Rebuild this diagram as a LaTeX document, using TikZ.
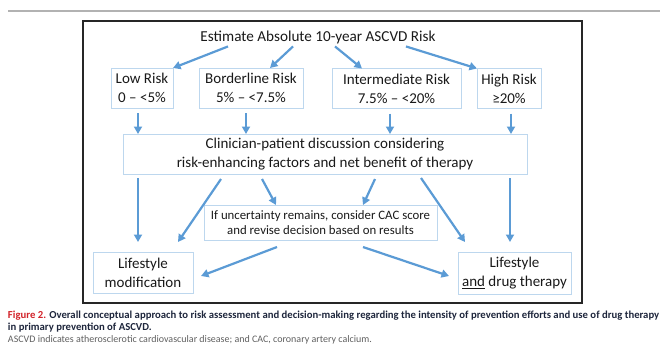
\documentclass[tikz,border=0pt]{standalone}
\usepackage{fontspec}
\setmainfont{Carlito}
\usetikzlibrary{arrows.meta}
\definecolor{arrowblue}{RGB}{91,155,213}
\definecolor{boxblue}{RGB}{189,215,238}
\definecolor{capred}{RGB}{210,35,42}
\definecolor{capnavy}{RGB}{30,38,60}
\definecolor{capgray}{RGB}{95,95,95}

\begin{document}
\begin{tikzpicture}[
        x=1pt, y=-1pt,
        every node/.style={inner sep=0pt, outer sep=0pt, text=black!90},
        riskbox/.style={draw=boxblue, line width=0.9pt, align=center,
                font=\fontsize{15}{19}\selectfont, minimum height=40pt},
        cacbox/.style={riskbox, font=\fontsize{12.8}{14.5}\selectfont, minimum height=35pt},
        link/.style={draw=arrowblue, line width=2.2pt, -{Triangle[length=7.5pt,width=8pt]}},
        caption/.style={anchor=base west, font=\fontsize{10.7}{12}\selectfont}
    ]

    \useasboundingbox (0,0) rectangle (668,357);
    \fill[black!30] (8,9.5) rectangle (660,11.5);
    \draw[black!85, line width=1.2pt] (83,21) rectangle (582,303);

    \node[anchor=base, font=\fontsize{15.2}{17}\selectfont] (title) at (318,41) {Estimate Absolute 10-year ASCVD Risk};

    \node[riskbox, minimum width=62pt] (low) at (142,88) {Low Risk\\0 -- <5\%};
    \node[riskbox, minimum width=104pt] (border) at (251,88) {Borderline Risk\\5\% -- <7.5\%};
    \node[riskbox, minimum width=129pt] (inter) at (396.5,88.5) {Intermediate Risk\\7.5\% -- <20\%};
    \node[riskbox, minimum width=64pt] (high) at (509,88.5) {High Risk\\≥20\%};

    \node[riskbox, minimum width=404pt] (disc) at (325,154) {Clinician-patient discussion considering\\risk-enhancing factors and net benefit of therapy};

    \node[cacbox, minimum width=233pt] (cac) at (320.5,222.5) {If uncertainty remains, consider CAC score\\and revise decision based on results};

    \node[riskbox, minimum width=100pt, minimum height=41pt] (lmod) at (143,272.5) {Lifestyle\\modification};
    \node[riskbox, minimum width=113pt, minimum height=42pt] (ldrug) at (514.5,273) {Lifestyle\\\underline{and} drug therapy};

    \draw[link] ([xshift=-90pt,yshift=-3pt]title.south) -- (low.north east);
    \draw[link] ([xshift=-25pt,yshift=-3pt]title.south) -- ([xshift=19pt]border.north);
    \draw[link] ([xshift=17pt,yshift=-3pt]title.south) -- ([xshift=30pt]inter.north west);
    \draw[link] ([xshift=88pt,yshift=-3pt]title.south) -- (high.north west);

    \draw[link] ([xshift=-4pt,yshift=-5pt]low.south) -- ([xshift=-4pt]low.south |- disc.north);
    \draw[link] ([xshift=-5pt,yshift=-5pt]border.south) -- ([xshift=-5pt]border.south |- disc.north);
    \draw[link] ([xshift=-6.5pt,yshift=-5pt]inter.south) -- ([xshift=-6.5pt]inter.south |- disc.north);
    \draw[link] ([xshift=2pt,yshift=-5pt]high.south) -- ([xshift=2pt]high.south |- disc.north);

    \draw[link] ([xshift=-5pt,yshift=-4pt]lmod.north |- disc.south) -- ([xshift=-5pt,yshift=10pt]lmod.north);
    \draw[link] ([xshift=98pt,yshift=-5pt]disc.south west) -- ([xshift=-15pt,yshift=10pt]lmod.north east);
    \draw[link] ([xshift=139pt,yshift=-5pt]disc.south west) -- ([xshift=72pt]cac.north west);
    \draw[link] ([xshift=-152pt,yshift=-5pt]disc.south east) -- ([xshift=-74pt]cac.north east);
    \draw[link] ([xshift=-106pt,yshift=-4pt]disc.south east) -- ([xshift=7pt,yshift=10pt]ldrug.north west);
    \draw[link] ([xshift=-4.5pt,yshift=-4pt]ldrug.north |- disc.south) -- ([xshift=-4.5pt,yshift=10pt]ldrug.north);

    \draw[link] ([xshift=73pt,yshift=-7pt]cac.south west) -- ([xshift=8pt,yshift=-3.5pt]lmod.east);
    \draw[link] ([xshift=-74pt,yshift=-7pt]cac.south east) -- ([xshift=-9pt,yshift=-3pt]ldrug.west);

    \node[caption, font=\fontsize{10.7}{12}\selectfont\bfseries, text=capnavy] (cap1) at (8,318)
        {\textcolor{capred}{Figure 2.} Overall conceptual approach to risk assessment and decision-making regarding the intensity of prevention efforts and use of drug therapy};
    \node[caption, font=\fontsize{10.7}{12}\selectfont\bfseries, text=capnavy] (cap2) at (8,330) {in primary prevention of ASCVD.};
    \node[caption, font=\fontsize{10}{12}\selectfont, text=capgray] (cap3) at (8,342) {ASCVD indicates atherosclerotic cardiovascular disease; and CAC, coronary artery calcium.};

\end{tikzpicture}
\end{document}
